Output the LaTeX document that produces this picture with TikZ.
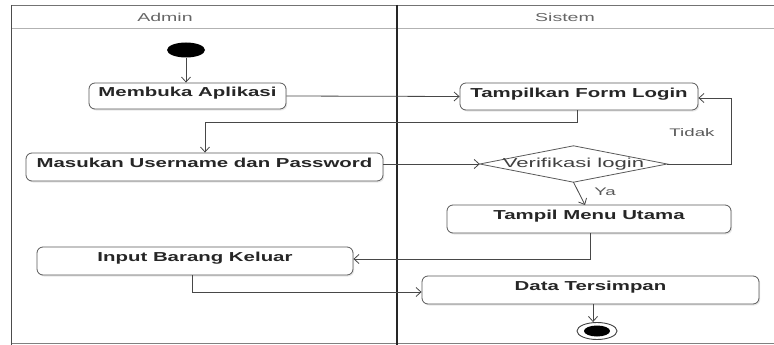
\documentclass[tikz,border=0pt]{standalone}
\usepackage{fontspec}
\setmainfont{Liberation Sans}
\newfontfamily\boxfont[FakeStretch=1.57]{Liberation Sans Bold}
\newfontfamily\lblfont[FakeStretch=1.7]{Liberation Sans}
\usetikzlibrary{arrows.meta,shadows,shapes.geometric}
\begin{document}
\begin{tikzpicture}[x=1pt,y=-1pt,
  act/.style={draw=black!65, line width=0.8pt, rounded corners=6pt, fill=white,
    inner sep=0pt, font=\boxfont\fontsize{13}{13}\selectfont, text=black!85,
    text height=9.5pt, text depth=8.5pt,
    drop shadow={opacity=0.18, shadow xshift=1.2pt, shadow yshift=-1.5pt}},
  flow/.style={draw=black!72, line width=0.8pt},
  arr/.style={flow, -{Straight Barb[length=5pt,width=9pt]}},
  lane/.style={font=\lblfont\fontsize{11.5}{12}\selectfont, text=black!60},
  guard/.style={font=\lblfont\fontsize{11}{12}\selectfont, text=black!65}]
\useasboundingbox (0,0) rectangle (774,345);
% swimlanes
\draw[black!55, line width=0.8pt] (11,5) -- (774,5);
\draw[black!30, line width=1.8pt] (11,28.5) -- (774,28.5);
\draw[black!50, line width=0.8pt] (11,343.5) -- (774,343.5);
\draw[black!70, line width=1.6pt] (11.5,5) -- (11.5,345);
\draw[black!85, line width=1.8pt] (397,5) -- (397,345);
\node[lane] (hadmin) at (165,17) {Admin};
\node[lane] (hsistem) at (565,17) {Sistem};
% start
\node[ellipse, fill=black, minimum width=38pt, minimum height=15pt, inner sep=0pt] (start) at (186,50) {};
% activities
\node[act, minimum width=197pt, minimum height=26pt] (buka) at (187.5,96) {Membuka Aplikasi};
\node[act, minimum width=238pt, minimum height=27pt] (form) at (579,96.5) {Tampilkan Form Login};
\node[act, minimum width=357pt, minimum height=28pt] (masuk) at (204.5,167) {Masukan Username dan Password};
\coordinate (vc) at (573.5,164);
\node[inner sep=0pt, minimum width=187pt, minimum height=36pt] (verif) at (vc) {};
\draw[black!65, line width=0.8pt, fill=white] (verif.west) -- (verif.north) -- (verif.east) -- (verif.south) -- cycle;
\node[inner sep=0pt, font=\lblfont\fontsize{13}{13}\selectfont, text=black!75] (veriftxt) at (vc) {Verifikasi login};
\node[act, minimum width=284pt, minimum height=28pt] (menu) at (589,219) {Tampil Menu Utama};
\node[act, minimum width=316pt, minimum height=28pt] (input) at (195,261) {Input Barang Keluar};
\node[act, minimum width=337pt, minimum height=28pt] (data) at (590.5,290) {Data Tersimpan};
% end
\node[ellipse, draw=black!75, line width=0.9pt, fill=white, minimum width=40pt, minimum height=17pt, inner sep=0pt] (stop) at (597,331) {};
\node[ellipse, fill=black, minimum width=26pt, minimum height=11pt, inner sep=0pt] (stopin) at (597,331) {};
% guards
\node[guard] (tidak) at (692,133) {Tidak};
\node[guard] (ya) at (605,192) {Ya};
% connectors
\coordinate (c1) at (577,122);
\coordinate (c2) at (205,122);
\coordinate (c3) at (731,164);
\coordinate (c4) at (731,98);
\coordinate (c5) at (590,259);
\coordinate (c6) at (192,292);
\coordinate (c7) at (585,205);
\coordinate (c8) at (593,304);
\draw[arr] (start) -- (buka.north -| start);
\draw[arr] (buka.east) -- (form.west);
\draw[arr] (form.south -| c1) -- (c1) -- (c2) -- (masuk.north -| c2);
\draw[arr] (masuk.east |- verif) -- (verif.west);
\draw[arr] (verif.east) -- (c3) -- (c4) -- (form.east |- c4);
\draw[arr] (verif.south) -- (c7);
\draw[arr] (menu.south -| c5) -- (c5) -- (input.east |- c5);
\draw[arr] (input.south -| c6) -- (c6) -- (data.west |- c6);
\draw[arr] (c8) -- (stop.north -| c8);
\end{tikzpicture}
\end{document}
